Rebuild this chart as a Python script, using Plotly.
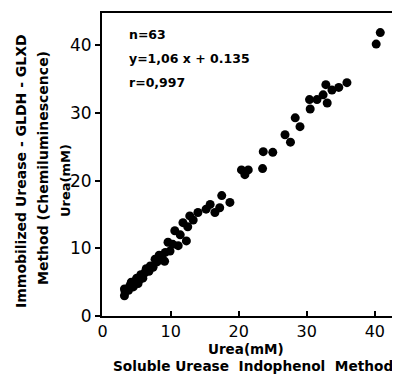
import plotly.graph_objects as go

x_soluble = [40.8, 40.2, 35.9, 34.7, 33.7, 32.8, 32.4, 33.0, 31.5, 30.4, 30.5, 28.3, 29.0,
             26.8, 27.6, 23.6, 25.0, 23.5, 20.4, 21.4, 20.9, 17.5, 18.7, 17.2, 15.8, 16.5,
             3.2, 3.3, 3.2, 3.8, 4.0, 4.2, 4.5, 4.8, 5.0, 5.2, 5.4, 5.6, 5.9, 6.2, 6.4, 6.8,
             7.0, 7.4, 7.7, 8.0, 8.3, 8.7, 9.1, 9.2, 9.6, 9.9, 10.3, 10.6, 11.1, 11.4, 11.8,
             12.3, 12.5, 12.8, 13.3, 14.0, 15.2]
y_immob = [41.9, 40.2, 34.5, 33.8, 33.4, 34.2, 32.7, 31.5, 32.0, 32.0, 30.6, 29.3, 28.0,
           26.8, 25.7, 24.3, 24.2, 21.8, 21.6, 21.6, 20.9, 17.8, 16.8, 16.0, 16.5, 15.3,
           3.0, 3.6, 4.0, 3.8, 4.5, 5.0, 4.3, 5.2, 5.6, 4.8, 5.4, 6.1, 5.6, 6.4, 7.0, 6.6,
           7.4, 7.2, 8.4, 8.0, 9.0, 8.6, 8.1, 9.4, 10.9, 9.6, 10.6, 12.6, 10.4, 12.0, 13.8,
           11.1, 13.2, 14.8, 14.2, 15.3, 15.8]
tick_vals = [0, 10, 20, 30, 40]
stats_lines = ["n=63", "y=1,06 x + 0.135", "r=0,997"]
y_title_lines = ["Immobilized Urease - GLDH - GLXD", "Method (Chemiluminescence)", "Urea(mM)"]
x_title_lines = ["Urea(mM)", "Soluble Urease  Indophenol  Method"]

FONT = "DejaVu Sans"
OFF = 8  # page body margin
W, H = 400 - OFF, 376 - OFF
# plot area in page pixels: x 102..400, y 13..316
L, T = 102 - OFF, 13 - OFF
B = H - (316 - OFF)
PW, PH = 400 - 102, 316 - 13


def px(xp):
    return (xp - 102) / PW


def py(yp):
    return 1 - (yp - 13) / PH


fig = go.Figure()
fig.add_trace(go.Scatter(
    x=x_soluble, y=y_immob, mode="markers",
    marker=dict(color="black", size=9, line=dict(width=0)),
    showlegend=False, hoverinfo="skip"))

fig.update_layout(
    width=W, height=H,
    margin=dict(l=L, r=0, t=T, b=B, pad=0),
    paper_bgcolor="white", plot_bgcolor="white",
    font=dict(family=FONT, color="black"),
)
fig.update_xaxes(
    range=[-0.1, 43.7], tickvals=tick_vals, ticktext=[str(v) for v in tick_vals],
    ticks="inside", ticklen=5, tickwidth=1.5, tickcolor="black",
    showline=True, linecolor="black", linewidth=2, mirror=True,
    showgrid=False, zeroline=False,
    tickfont=dict(family=FONT, size=16, color="black"),
)
fig.update_yaxes(
    range=[0, 44.8], tickvals=tick_vals, ticktext=[str(v) for v in tick_vals],
    ticks="outside", ticklen=5, tickwidth=1.5, tickcolor="black",
    showline=True, linecolor="black", linewidth=2,
    showgrid=False, zeroline=False,
    tickfont=dict(family=FONT, size=17, color="black"),
)

for i, (t, yc) in enumerate(zip(stats_lines, [35, 58, 82])):
    fig.add_annotation(
        text=t, xref="paper", yref="paper",
        x=px(127), y=py(yc),
        xanchor="left", yanchor="middle", showarrow=False,
        font=dict(family=FONT, size=12.5, color="black", weight="bold"))

for i, (t, xc, yc, fs) in enumerate(zip(y_title_lines, [21, 43, 65], [171, 168, 181], [14, 14, 13])):
    fig.add_annotation(
        text=t, xref="paper", yref="paper", x=px(xc), y=py(yc),
        xanchor="center", yanchor="middle", textangle=-90, showarrow=False,
        font=dict(family=FONT, size=fs, color="black", weight="bold"))

for i, (t, xc, yc, fs) in enumerate(zip(x_title_lines, [246, 253], [349, 366], [13.5, 13.7])):
    fig.add_annotation(
        text=t, xref="paper", yref="paper", x=px(xc), y=py(yc),
        xanchor="center", yanchor="middle", showarrow=False,
        font=dict(family=FONT, size=fs, color="black", weight="bold"))

fig.write_html("out.html")
